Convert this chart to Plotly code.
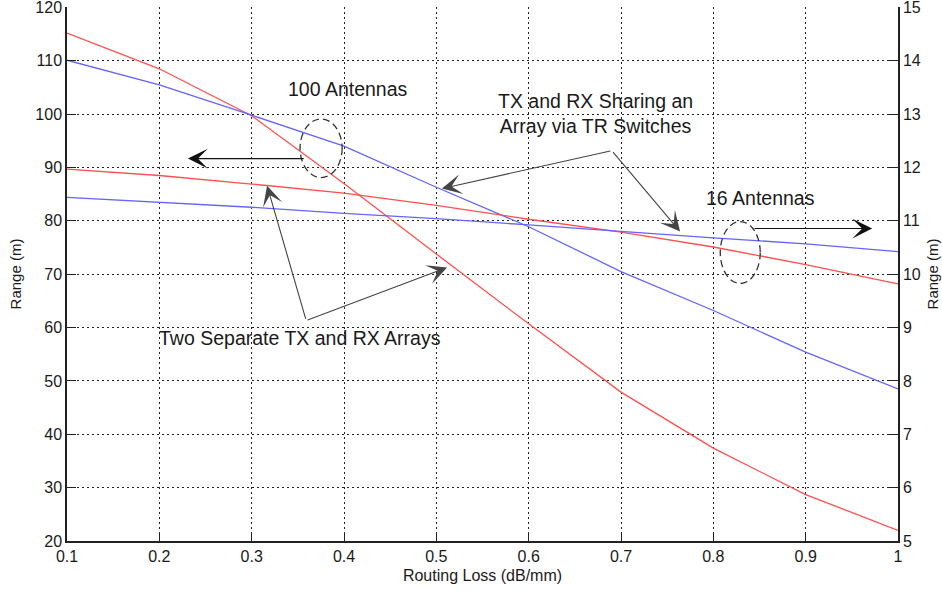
import plotly.graph_objects as go

# ---- data ----
routing_loss = [0.1, 0.2, 0.3, 0.4, 0.5, 0.6, 0.7, 0.8, 0.9, 1.0]

# 100 antennas (left axis, m)
sep_100 = [115.2, 108.5, 99.7, 87.0, 73.8, 60.7, 47.9, 37.4, 28.7, 22.0]
shared_100 = [110.1, 105.5, 99.8, 94.0, 86.3, 78.9, 70.5, 63.2, 55.4, 48.5]

# 16 antennas (right axis, m)
sep_16 = [11.97, 11.85, 11.69, 11.52, 11.29, 11.03, 10.79, 10.51, 10.18, 9.82]
shared_16 = [11.44, 11.35, 11.255, 11.14, 11.04, 10.925, 10.80, 10.68, 10.57, 10.425]

x_ticks = [0.1, 0.2, 0.3, 0.4, 0.5, 0.6, 0.7, 0.8, 0.9, 1.0]
x_ticklabels = ["0.1", "0.2", "0.3", "0.4", "0.5", "0.6", "0.7", "0.8", "0.9", "1"]
left_ticks = [20, 30, 40, 50, 60, 70, 80, 90, 100, 110, 120]
right_ticks = [5, 6, 7, 8, 9, 10, 11, 12, 13, 14, 15]

RED = "#ff4f4f"
BLUE = "#6464ff"
FONT = "Liberation Sans, Arial, Helvetica, sans-serif"

fig = go.Figure()
fig.add_trace(go.Scatter(x=routing_loss, y=sep_100, mode="lines",
                         line=dict(color=RED, width=1.3), yaxis="y"))
fig.add_trace(go.Scatter(x=routing_loss, y=shared_100, mode="lines",
                         line=dict(color=BLUE, width=1.3), yaxis="y"))
fig.add_trace(go.Scatter(x=routing_loss, y=sep_16, mode="lines",
                         line=dict(color=RED, width=1.3), yaxis="y2"))
fig.add_trace(go.Scatter(x=routing_loss, y=shared_16, mode="lines",
                         line=dict(color=BLUE, width=1.3), yaxis="y2"))

grid = dict(showgrid=True, gridcolor="#222222", gridwidth=1, griddash="1.5px,3.5px")

fig.update_layout(
    width=942, height=591,
    margin=dict(l=67, r=44, t=7, b=50, autoexpand=False),
    paper_bgcolor="white", plot_bgcolor="white",
    showlegend=False,
    font=dict(family=FONT, size=16, color="#1a1a1a"),
    xaxis=dict(range=[0.1, 1.0], tickvals=x_ticks, ticktext=x_ticklabels,
               ticks="inside", ticklen=9, tickcolor="#222", showline=True,
               linecolor="#222", linewidth=1.5, zeroline=False, automargin=False,
               ticklabeloverflow="allow", tickfont=dict(size=16),
               title=dict(text="Routing Loss (dB/mm)", font=dict(size=16), standoff=6),
               **grid),
    yaxis=dict(range=[20, 120.08], tickvals=left_ticks, ticks="inside", ticklen=9,
               tickcolor="#222", showline=True, linecolor="#222", linewidth=1.5,
               zeroline=False, automargin=False,
               ticklabeloverflow="allow", tickfont=dict(size=16),
               title=dict(text="Range (m)", font=dict(size=15), standoff=10),
               **grid),
    yaxis2=dict(range=[5, 15.008], tickvals=right_ticks, overlaying="y", side="right",
                ticks="inside", ticklen=9, tickcolor="#222", showline=True,
                linecolor="#222", linewidth=1.5, zeroline=False, showgrid=False,
                automargin=False,
                ticklabeloverflow="allow", tickfont=dict(size=16),
                title=dict(text="Range (m)", font=dict(size=15), standoff=8)),
)

# ---- text labels ----
labels = [
    ("100 Antennas", 0.4044, 104.8),
    ("TX and RX Sharing an<br>Array via TR Switches", 0.672, 100.1),
    ("16 Antennas", 0.851, 84.2),
    ("Two Separate TX and RX Arrays", 0.352, 58.0),
]
for txt, lx, ly in labels:
    fig.add_annotation(x=lx, y=ly, xref="x", yref="y", text=txt, showarrow=False,
                       font=dict(family=FONT, size=19.5, color="#1a1a1a"),
                       xanchor="center", yanchor="middle", align="center")

# ---- arrows: (head_x, head_y, tail_x, tail_y, color) ----
arrows = [
    (0.231, 91.67, 0.358, 91.67, "#111111"),
    (0.972, 78.56, 0.843, 78.56, "#111111"),
    (0.506, 86.05, 0.690, 93.16, "#444444"),
    (0.764, 78.0, 0.690, 93.16, "#444444"),
    (0.3167, 86.6, 0.359, 61.33, "#444444"),
    (0.5117, 71.26, 0.359, 61.33, "#444444"),
]
for hx, hy, tx, ty, col in arrows:
    fig.add_annotation(x=hx, y=hy, ax=tx, ay=ty, xref="x", yref="y",
                       axref="x", ayref="y", text="", showarrow=True,
                       arrowhead=3, arrowsize=3, arrowwidth=1.1, arrowcolor=col)

# ---- dashed ellipses ----
ellipses = [(0.3524, 88.1, 0.398, 99.1), (0.8075, 68.26, 0.8508, 79.87)]
for x0, y0, x1, y1 in ellipses:
    fig.add_shape(type="circle", xref="x", yref="y", x0=x0, y0=y0, x1=x1, y1=y1,
                  line=dict(color="#333333", width=1.3, dash="7px,4px"))

fig.write_html("out.html")
